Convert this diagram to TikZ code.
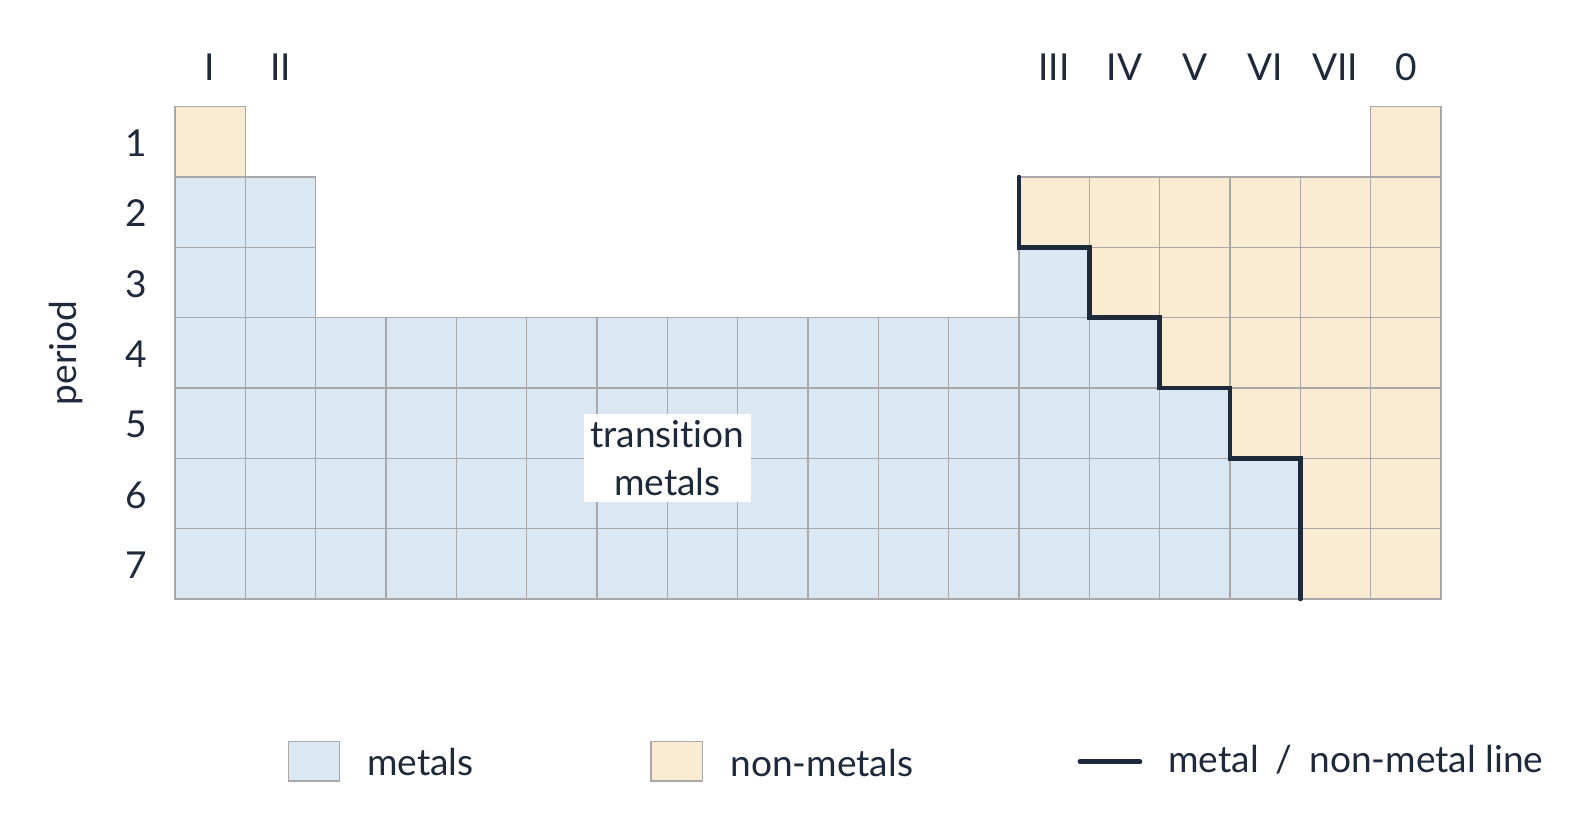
\documentclass[tikz,border=0pt]{standalone}
\usepackage{fontspec}
\setmainfont{Lato}[Ligatures = NoCommon]
\definecolor{ink}{HTML}{1E293B}
\definecolor{metalfill}{HTML}{D9E8F2}
\definecolor{nonmetalfill}{HTML}{FAECD2}
\definecolor{gridgray}{HTML}{A8A8A8}
\begin{document}
\begin{tikzpicture}[
  every node/.style = {text = ink, font = \fontsize{15pt}{19.5pt}\selectfont, inner sep = 0pt},
  metalcell/.style = {fill = metalfill, draw = gridgray, line width = 0.5pt},
  nonmetalcell/.style = {fill = nonmetalfill, draw = gridgray, line width = 0.5pt},
  grouplabel/.style = {anchor = base},
  periodlabel/.style = {anchor = base},
  borderline/.style = {draw = ink, line width = 1.9pt, line cap = round},
  legendtext/.style = {anchor = base west},
  x = 1cm,
  y = 1cm
]
  \useasboundingbox (-2.488, 1.517) rectangle (20.191, -10.370);

  % cells
  \foreach \r/\first/\last in {2/1/2, 3/1/2, 3/13/13, 4/1/14, 5/1/15, 6/1/16, 7/1/16}
    \foreach \c in {\first,...,\last}
      \filldraw[metalcell] (\c-1, 1-\r) rectangle (\c, -\r);
  \foreach \r/\first/\last in {1/1/1, 1/18/18, 2/13/18, 3/14/18, 4/15/18, 5/16/18, 6/17/18, 7/17/18}
    \foreach \c in {\first,...,\last}
      \filldraw[nonmetalcell] (\c-1, 1-\r) rectangle (\c, -\r);

  % group and period labels
  \node[grouplabel] (g1) at (0.5, 0.37) {I};
  \node[grouplabel] (g2) at (1.5, 0.37) {II};
  \node[grouplabel] (g3) at (12.5, 0.37) {III};
  \node[grouplabel] (g4) at (13.5, 0.37) {IV};
  \node[grouplabel] (g5) at (14.5, 0.37) {V};
  \node[grouplabel] (g6) at (15.5, 0.37) {VI};
  \node[grouplabel] (g7) at (16.5, 0.37) {VII};
  \node[grouplabel] (g0) at (17.5, 0.37) {0};
  \foreach \r in {1,...,7}
    \node[periodlabel] (p\r) at (-0.55, -\r+0.5-0.21) {\r};
  \node[rotate = 90, anchor = base] (period) at (-1.4, -3.5) {period};

  \node[fill = white, align = center, inner xsep = 2.5pt, inner ysep = 2.5pt] (tm) at (7, -5) {transition\\metals};

  % metal / non-metal border
  \coordinate (b0) at (12, -1);
  \coordinate (b1) at (16, -7);
  \draw[borderline] (b0) -- ++(0, -1) -- ++(1, 0) -- ++(0, -1) -- ++(1, 0) -- ++(0, -1)
    -- ++(1, 0) -- ++(0, -1) -- ++(1, 0) -- (b1);

  % legend
  \filldraw[metalcell] (1.611, -9.029) rectangle (2.336, -9.588);
  \node[legendtext] (lmetal) at (2.726, -9.51) {metals};
  \filldraw[nonmetalcell] (6.768, -9.029) rectangle (7.497, -9.588);
  \node[legendtext] (lnonmetal) at (7.891, -9.52) {non-metals};
  \coordinate (la) at (12.868, -9.313);
  \coordinate (lb) at (13.721, -9.313);
  \draw[borderline] (la) -- (lb);
  \node[legendtext] (lline) at (14.119, -9.47) {metal\hspace{3pt} / \hspace{3pt}non-metal line};
\end{tikzpicture}
\end{document}
